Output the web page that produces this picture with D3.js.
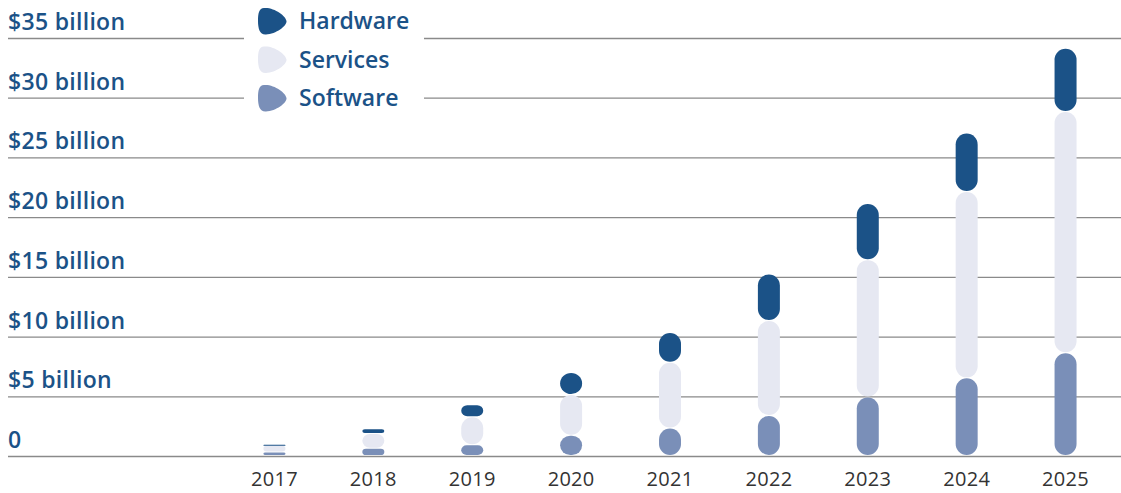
<!DOCTYPE html>
<html><head><meta charset="utf-8">
<script src="https://cdn.jsdelivr.net/npm/d3@7"></script>
<style>body{margin:0;background:#fff}svg{display:block}</style>
</head><body><svg id="c" width="1121" height="493"></svg>
<script>
const years = ["2017","2018","2019","2020","2021","2022","2023","2024","2025"];
const software = [0.3,0.6,0.9,1.7,2.3,3.35,4.9,6.5,8.6];
const services = [0.55,1.25,2.35,3.4,5.5,7.95,11.5,15.6,20.2];
const hardware = [0.1,0.4,1.0,1.85,2.5,3.9,4.7,4.9,5.3];
const tickValues = [0,5,10,15,20,25,30,35];
const tickLabels = ["0","$5 billion","$10 billion","$15 billion","$20 billion","$25 billion","$30 billion","$35 billion"];
const seriesNames = ["Hardware","Services","Software"];
const colors = {Hardware:"#1b5287",Services:"#e6e8f2",Software:"#7a8fb8"};

const svg = d3.select("#c");
const y = d3.scaleLinear().domain([0,35]).range([456,38]);
const x = d3.scaleBand().domain(years).range([225,1115]).paddingInner(0).paddingOuter(0);
const bw = 22;
const FONT = "'Open Sans', Lato, sans-serif";

// gridlines + labels
const g = svg.append("g");
tickValues.forEach((v,i)=>{
  g.append("line").attr("x1",8).attr("x2",1121).attr("y1",y(v)+0.5).attr("y2",y(v)+0.5)
    .attr("stroke","#8a8a8a").attr("stroke-width",1.3);
  g.append("text").attr("x",8).attr("y",y(v)-8).text(tickLabels[i])
    .attr("font-family",FONT).attr("font-weight",600)
    .attr("font-size",23).attr("letter-spacing",0.3).attr("fill","#1b5287");
});

// x axis labels
const xa = d3.axisBottom(x).tickSize(0).tickPadding(0);
const xg = svg.append("g").attr("transform","translate(0,486)").call(xa);
xg.select(".domain").remove();
xg.selectAll("text").attr("font-family",FONT).attr("font-size",20).attr("letter-spacing",0.3)
  .attr("fill","#333").attr("dy",0).attr("y",0);

// stacked bars
const data = years.map((yr,i)=>({year:yr,Software:software[i],Services:services[i],Hardware:hardware[i]}));
const stack = d3.stack().keys(["Software","Services","Hardware"])(data);
stack.forEach(layer=>{
  svg.append("g").selectAll("rect").data(layer).join("rect")
    .attr("x",d=>x(d.data.year)+x.bandwidth()/2-bw/2)
    .attr("width",bw)
    .attr("y",d=>y(d[1]))
    .attr("height",d=>Math.max(1,y(d[0])-y(d[1])-1))
    .attr("rx",d=>Math.min(11,(y(d[0])-y(d[1]))/2))
    .attr("fill",colors[layer.key]);
});

// legend
const lg = svg.append("g");
lg.append("rect").attr("x",244).attr("y",0).attr("width",180).attr("height",112).attr("fill","#fff");
seriesNames.forEach((n,i)=>{
  const cy = 21 + i*38.5;
  lg.append("path").attr("transform",`translate(272,${cy})`)
    .attr("d","M-8,-13 C2,-14 14,-5 14.5,0 C15,5 4,13 -6,13.5 C-12,14 -14,8 -14,0 C-14,-8 -13,-12.5 -8,-13Z")
    .attr("fill",colors[n]);
  lg.append("text").attr("x",299).attr("y",cy+8).text(n)
    .attr("font-family",FONT).attr("font-weight",600)
    .attr("font-size",23).attr("fill","#1b5287");
});
</script></body></html>
